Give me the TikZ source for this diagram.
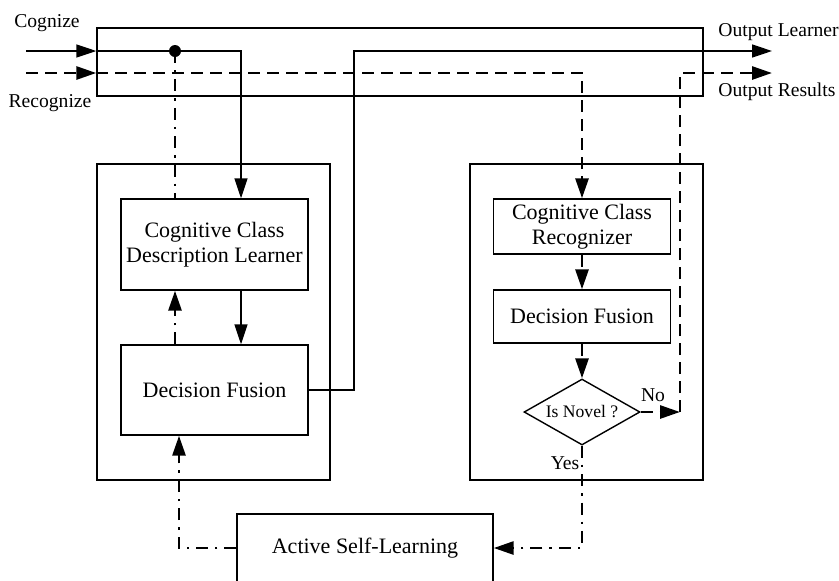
\documentclass[tikz,border=0pt]{standalone}
\usepackage{fontspec}
\setmainfont{Liberation Serif}
\usetikzlibrary{arrows.meta,shapes.geometric}
\begin{document}
\begin{tikzpicture}[x=0.5pt,y=-0.5pt,
  panel/.style={draw,line width=0.7pt,inner sep=0pt},
  box/.style={draw,line width=0.7pt,inner sep=0pt,align=center,font=\fontsize{11}{12.5}\selectfont},
  lbl/.style={inner sep=0pt,font=\fontsize{9.8}{11}\selectfont},
  flow/.style={line width=0.8pt},
  recflow/.style={line width=1.4pt,dash pattern=on 6pt off 3.5pt},
  learnflow/.style={line width=1.4pt,dash pattern=on 6pt off 3.5pt on 1.2pt off 3.5pt},
  >={Triangle[length=10pt,width=6.5pt]}]
\useasboundingbox (0,0) rectangle (839,580);
% panels
\node(bus) at (400,62)[panel,minimum width=303pt,minimum height=34pt]{};
\node(learnpanel) at (213.5,322)[panel,minimum width=116.5pt,minimum height=158pt]{};
\node(recogpanel) at (586.5,322)[panel,minimum width=116.5pt,minimum height=158pt]{};
% blocks
\node(ccdl) at (214.5,244.5)[box,minimum width=93.5pt,minimum height=45.5pt]{Cognitive Class\\Description Learner};
\node(dfl) at (214.5,390)[box,minimum width=93.5pt,minimum height=45pt]{Decision Fusion};
\node(ccr) at (582,226.5)[box,minimum width=88.5pt,minimum height=27.5pt]{Cognitive Class\\Recognizer};
\node(dfr) at (582,316.5)[box,minimum width=88.5pt,minimum height=26.5pt]{Decision Fusion};
\node(novel) at (582,412)[shape=diamond,draw,line width=0.7pt,aspect=1.8,inner sep=0pt,
  minimum width=58pt,minimum height=33pt,font=\fontsize{8.8}{10}\selectfont]{Is Novel ?};
\node(asl) at (365,548)[box,minimum width=128pt,minimum height=34pt]{Active Self-Learning};
% labels
\node(cognize) at (47,23)[lbl]{Cognize};
\node(recognize) at (50,103)[lbl]{Recognize};
\node(outlearner) at (718,32)[lbl,anchor=west]{Output Learner};
\node(outresults) at (718,92)[lbl,anchor=west]{Output Results};
\node(no) at (653,395)[lbl]{No};
\node(yes) at (565,463)[lbl]{Yes};
% end points and corners
\coordinate(cin) at (26,51);
\coordinate(rin) at (26,73);
\coordinate(lout) at (772,51);
\coordinate(rout) at (772,73);
\coordinate(tap) at (175,51);
\coordinate(lturn) at (241,51);
\coordinate(lup) at (354,51);
\coordinate(rturn) at (582,73);
\coordinate(nturn) at (680,412);
\coordinate(fb) at (179,548);
% cognize path
\draw[flow,->] (cin) -- (cin -| bus.west);
\draw[flow,->] (cin -| bus.west) -- (lturn) -- (lturn |- ccdl.north);
\fill (tap) circle[radius=3pt];
\draw[learnflow] (tap) -- (tap |- ccdl.north);
\draw[flow,->] (ccdl.south -| lturn) -- (dfl.north -| lturn);
\draw[learnflow,->] (dfl.north -| tap) -- (ccdl.south -| tap);
\draw[flow,->] (dfl.east) -| (lup) -- (lout);
% recognize path
\draw[recflow,->] (rin) -- (rin -| bus.west);
\draw[recflow,->] (rin -| bus.west) -- (rturn) -- (ccr.north);
\draw[recflow,->] (ccr.south) -- (dfr.north);
\draw[recflow,->] (dfr.south) -- (novel.north);
\draw[recflow,->] (novel.east) -- (nturn);
\draw[recflow,->] (nturn) |- (rout);
% self-learning loop
\draw[learnflow,->] (novel.south) |- (asl.east);
\draw[learnflow,->] (asl.west) -| (dfl.south -| fb);
\end{tikzpicture}
\end{document}
